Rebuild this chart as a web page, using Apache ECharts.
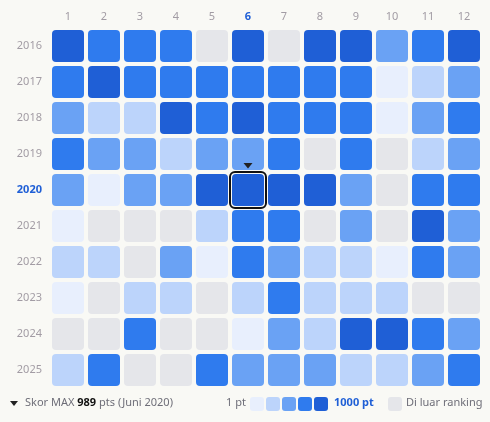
<!DOCTYPE html>
<html>
<head>
<meta charset="utf-8">
<script src="https://cdn.jsdelivr.net/npm/echarts@6/dist/echarts.min.js"></script>
<style>
html,body{margin:0;padding:0;background:#f9f9f5;}
#chart{width:490px;height:422px;}
</style>
</head>
<body>
<div id="chart"></div>
<script>
const months = ['1','2','3','4','5','6','7','8','9','10','11','12'];
const years = ['2016','2017','2018','2019','2020','2021','2022','2023','2024','2025'];
// points per month (null = di luar ranking)
const y2016 = [905, 720, 705, 690, null, 930, null, 880, 915, 510, 740, 870];
const y2017 = [700, 860, 680, 700, 690, 710, 730, 720, 700, 120, 330, 520];
const y2018 = [480, 300, 310, 900, 700, 880, 720, 690, 710, 90, 500, 710];
const y2019 = [720, 470, 480, 320, 500, 530, 740, null, 720, null, 290, 490];
const y2020 = [520, 110, 480, 500, 870, 989, 900, 880, 460, null, 730, 700];
const y2021 = [140, null, null, null, 280, 690, 700, null, 470, null, 850, 500];
const y2022 = [300, 310, null, 520, 100, 740, 490, 330, 320, 130, 760, 500];
const y2023 = [90, null, 280, 300, null, 310, 750, 290, 300, 270, null, null];
const y2024 = [null, null, 700, null, null, 60, 490, 340, 890, 900, 720, 500];
const y2025 = [320, 720, null, null, 710, 480, 500, 510, 300, 310, 480, 700];
const rows = [y2016, y2017, y2018, y2019, y2020, y2021, y2022, y2023, y2024, y2025];
const maxLabel = 'Skor MAX';
const maxMonthName = 'Juni';

const levelColors = ['#e8effd', '#bcd4fb', '#6aa2f4', '#2f7bee', '#1f5fd6'];
const grayColor = '#e5e6ea';
const bg = '#f9f9f5';

const data = [];
let maxVal = -1, maxX = 0, maxY = 0;
rows.forEach((r, yi) => r.forEach((v, xi) => {
  data.push([xi, yi, v == null ? -1 : v]);
  if (v != null && v > maxVal) { maxVal = v; maxX = xi; maxY = yi; }
}));

function colorFor(v) {
  if (v < 0) return grayColor;
  if (v < 200) return levelColors[0];
  if (v < 400) return levelColors[1];
  if (v < 600) return levelColors[2];
  if (v < 800) return levelColors[3];
  return levelColors[4];
}

const font = '"Noto Sans", sans-serif';
const fs = 11;
const chart = echarts.init(document.getElementById('chart'), null, {renderer: 'canvas'});
chart.setOption({
  backgroundColor: bg,
  animation: false,
  grid: {left: 50, top: 28, width: 432, height: 360},
  xAxis: {
    type: 'category', data: months, position: 'top',
    axisLine: {show: false}, axisTick: {show: false}, splitLine: {show: false},
    axisLabel: {
      interval: 0, margin: 6, fontSize: fs, fontFamily: font, color: '#a29ca4',
      formatter: function (v, i) { return i === maxX ? '{hl|' + v + '}' : v; },
      rich: {hl: {fontSize: fs, fontFamily: font, fontWeight: 'bold', color: '#1f5fd6'}}
    }
  },
  yAxis: {
    type: 'category', data: years, inverse: true,
    axisLine: {show: false}, axisTick: {show: false}, splitLine: {show: false},
    axisLabel: {
      interval: 0, margin: 8, fontSize: fs, fontFamily: font, color: '#a29ca4',
      formatter: function (v, i) { return i === maxY ? '{hl|' + v + '}' : v; },
      rich: {hl: {fontSize: fs, fontFamily: font, fontWeight: 'bold', color: '#1f5fd6'}}
    }
  },
  series: [{
    type: 'custom',
    data: data,
    renderItem: function (params, api) {
      const x = api.value(0), y = api.value(1), v = api.value(2);
      const c = api.coord([x, y]);
      const s = api.size([1, 1]);
      const w = s[0] - 4, h = s[1] - 4;
      const rx = c[0] - w / 2, ry = c[1] - h / 2;
      const children = [{
        type: 'rect',
        shape: {x: rx, y: ry, width: w, height: h, r: 4},
        style: {fill: colorFor(v)}
      }];
      if (x === maxX && y === maxY) {
        children.push({
          type: 'rect',
          shape: {x: rx - 2, y: ry - 2, width: w + 4, height: h + 4, r: 5},
          style: {fill: 'none', stroke: '#111111', lineWidth: 2}
        });
        children.push({
          type: 'polygon',
          shape: {points: [[c[0] - 4.5, ry - 11], [c[0] + 4.5, ry - 11], [c[0], ry - 5.5]]},
          style: {fill: '#222222'}
        });
      }
      return {type: 'group', children: children};
    }
  }],
  graphic: [
    {type: 'polygon', shape: {points: [[10, 401], [18, 401], [14, 406]]}, style: {fill: '#222222'}},
    {type: 'text', left: 25, top: 397, style: {
      text: '{a|' + maxLabel + ' }{b|' + maxVal + '}{a| pts (' + maxMonthName + ' ' + years[maxY] + ')}',
      rich: {
        a: {fontSize: fs, fontFamily: font, fill: '#6e6e78'},
        b: {fontSize: fs, fontFamily: font, fontWeight: 'bold', fill: '#111111'}
      }
    }},
    {type: 'text', left: 226, top: 397, style: {text: '1 pt', fontSize: fs, fontFamily: font, fill: '#6e6e78'}},
    {type: 'rect', shape: {x: 250, y: 397, width: 14, height: 14, r: 3}, style: {fill: levelColors[0]}},
    {type: 'rect', shape: {x: 266, y: 397, width: 14, height: 14, r: 3}, style: {fill: levelColors[1]}},
    {type: 'rect', shape: {x: 282, y: 397, width: 14, height: 14, r: 3}, style: {fill: levelColors[2]}},
    {type: 'rect', shape: {x: 298, y: 397, width: 14, height: 14, r: 3}, style: {fill: levelColors[3]}},
    {type: 'rect', shape: {x: 314, y: 397, width: 14, height: 14, r: 3}, style: {fill: levelColors[4]}},
    {type: 'text', left: 334, top: 397, style: {text: '1000 pt', fontSize: fs, fontFamily: font, fontWeight: 'bold', fill: '#1f5fd6'}},
    {type: 'rect', shape: {x: 388, y: 397, width: 14, height: 14, r: 3}, style: {fill: grayColor}},
    {type: 'text', left: 406, top: 397, style: {text: 'Di luar ranking', fontSize: fs, fontFamily: font, fill: '#6e6e78'}}
  ]
});
</script>
</body>
</html>
